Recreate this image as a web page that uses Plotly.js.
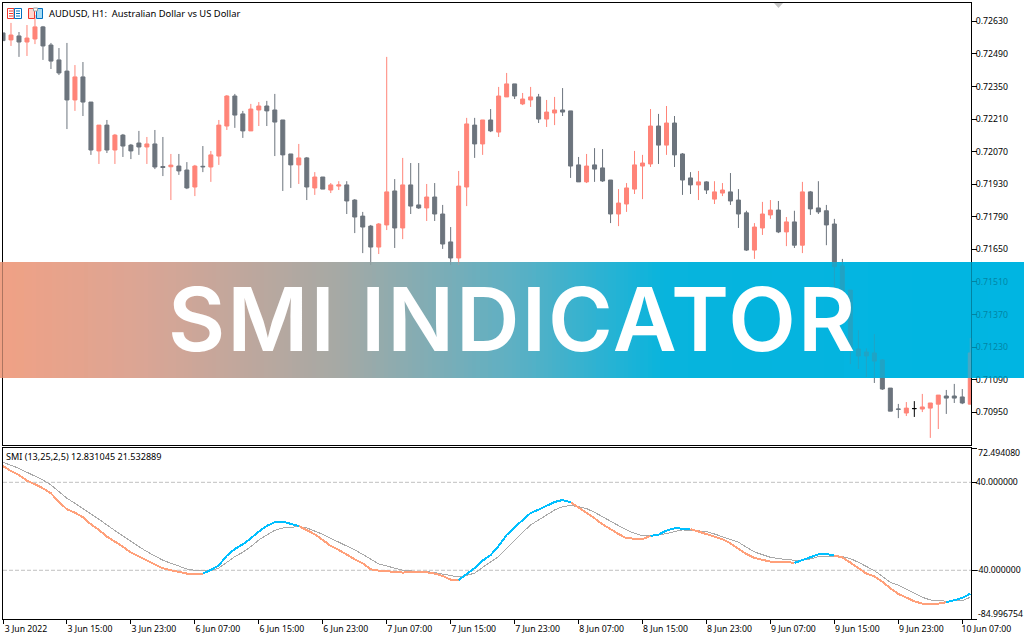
<!DOCTYPE html>
<html>
<head>
<meta charset="utf-8">
<script src="https://cdn.plot.ly/plotly-3.0.1.min.js"></script>
<style>
html,body{margin:0;padding:0;background:#fff;overflow:hidden}
#chart{width:1024px;height:640px}
.banner-title .annotation-text{letter-spacing:2px}
.scatterlayer .js-line{shape-rendering:crispEdges}
</style>
</head>
<body>
<div id="chart"></div>
<script>
// All prices in points of 0.00001
const opens=[72580,72550,72567,72541,72554,72606,72528,72464,72416,72292,72391,72283,72073,72184,72077,72141,72098,72107,72090,72103,72006,72005,72008,71991,71918,72007,72004,72051,72180,72309,72232,72159,72249,72266,72249,72206,72060,72013,72043,71914,71961,71905,71922,71927,71862,71793,71750,71660,71755,71901,71742,71927,71841,71828,71875,71802,71682,71613,71918,72184,72103,72206,72154,72305,72361,72275,72292,72305,72210,72236,72249,72245,72013,71940,72013,72000,71948,71802,71845,71909,72008,72017,72180,72098,72193,72060,71957,71927,71940,71866,71892,71897,71862,71807,71647,71742,71798,71819,71725,71768,71668,71897,71828,71816,71759,71579,71475,71222,71209,71205,71175,71054,70964,70947,70966,70964,70968,70985,71020,71020,71016,70985];
const highs=[72580,72623,72584,72614,72657,72610,72537,72515,72537,72442,72455,72283,72184,72206,72146,72146,72103,72159,72133,72163,72133,72060,72060,72025,72013,72094,72073,72206,72313,72318,72245,72275,72283,72288,72318,72206,72060,72103,72047,71982,71961,71935,71943,71943,71866,71811,71755,71763,72477,71952,72043,72021,72021,71931,71935,71841,71746,71987,72215,72215,72206,72253,72348,72408,72361,72322,72348,72318,72292,72305,72343,72245,72047,72060,72085,72081,71948,71909,71935,72073,72056,72253,72232,72266,72223,72064,71982,71987,71943,71943,71935,71978,71909,71816,71763,71854,71862,71858,71789,71816,71940,71901,71943,71841,71781,71609,71475,71303,71225,71286,71179,71054,70986,70994,70998,71029,70990,71024,71046,71072,71050,71269];
const lows=[72547,72524,72477,72481,72532,72464,72425,72399,72167,72245,72223,72056,72017,72064,72017,72047,72038,72056,72017,71995,71965,71862,71970,71909,71879,71982,71940,72013,72163,72172,72129,72159,72180,72180,72051,71901,71914,71931,71862,71884,71909,71892,71905,71802,71720,71634,71583,71630,71733,71656,71694,71802,71824,71772,71772,71652,71583,71583,71836,72043,72056,72154,72133,72305,72296,72270,72262,72193,72176,72184,72223,71957,71940,71935,71940,71940,71763,71750,71811,71888,71866,72004,72017,72056,72004,71884,71888,71862,71888,71845,71879,71841,71742,71643,71609,71712,71781,71720,71664,71656,71634,71798,71802,71668,71483,71461,71157,71136,71102,71076,71046,70955,70925,70934,70930,70951,70840,70878,70943,70990,70985,70985];
const closes=[72547,72571,72541,72558,72606,72524,72459,72408,72292,72391,72283,72077,72184,72077,72141,72094,72073,72090,72103,72004,72002,72012,71987,71914,72008,72005,72056,72184,72309,72227,72159,72253,72266,72245,72197,72056,72013,72043,71918,71961,71909,71927,71927,71858,71789,71746,71660,71759,71897,71742,71927,71836,71828,71875,71802,71673,71613,71922,72189,72103,72206,72159,72309,72361,72309,72296,72305,72210,72240,72249,72240,72008,71940,72008,71995,71944,71802,71849,71914,72013,72021,72180,72098,72193,72056,71948,71927,71940,71905,71897,71905,71858,71802,71647,71746,71802,71819,71725,71768,71668,71897,71824,71811,71755,71576,71470,71218,71192,71192,71170,71050,70955,70963,70968,70966,70973,70990,71024,71011,71011,70990,71205];

const smiMain=[54.8,50.3,46.7,41.5,38.2,34.5,30.0,22.1,15.5,12.4,8.2,1.8,-3.3,-9.4,-14.0,-18.5,-23.9,-27.6,-31.2,-34.8,-38.2,-40,-41.8,-43,-43,-43,-39.7,-35.5,-26.7,-20.6,-16.4,-10.9,-4.8,0.3,3.9,4.2,2.4,0.3,-3.3,-7.3,-12.4,-17.9,-21.5,-26.1,-30,-33.6,-39.1,-40.3,-40.9,-42.1,-42.1,-41.5,-41.5,-41.8,-43,-45.2,-48.5,-48.8,-43.6,-37.9,-31.2,-26.1,-17.9,-7.9,-0.9,5.8,12.1,15.2,18.5,22.1,23.9,21.8,17,12.4,7.3,1.8,-2.7,-7,-10.9,-11.5,-11.5,-8.8,-7.6,-3.9,-1.8,-2.1,-2.4,-4.8,-6.7,-9.4,-11.8,-15.5,-20,-25.2,-28.8,-30.6,-32.1,-32.4,-32.4,-33.3,-30.9,-27.9,-25.5,-25.2,-26.7,-28.2,-33,-37.9,-43,-45.5,-50.3,-56.4,-61.5,-64.8,-68.2,-70.3,-70.6,-70.3,-69.1,-67.3,-65.2,-61.2];
const smiSignal=[58.2,55.5,52.7,49.1,45.8,42.1,37.6,31.5,25.5,20.9,16.4,11.2,6.4,0.9,-3.9,-8.8,-13.9,-18.5,-23,-27,-30.9,-33.6,-36.1,-38.8,-40,-40.6,-40.6,-37.9,-33,-27.6,-23.6,-18.5,-12.4,-7.6,-3.6,-1.5,-0.6,-0.3,-1.5,-4.2,-7.3,-10.9,-14.2,-17.9,-21.5,-25.5,-29.7,-34.2,-36.1,-38.2,-40,-40.6,-40.6,-41.2,-42.1,-43.3,-44.8,-46.1,-44.5,-42.7,-37.3,-32.7,-27.6,-20,-12.4,-5.5,1.2,5.8,10.3,14.8,17.9,18.8,17.9,16.1,12.7,8.5,4.2,0.6,-3.3,-6.4,-8.5,-8.8,-7.9,-6.7,-4.8,-3.3,-3.6,-3.9,-4.8,-7,-9.4,-11.8,-14.5,-19.1,-23.3,-25.8,-28.2,-29.4,-30.3,-30.9,-30.6,-29.7,-27.6,-27,-27,-27.6,-29.4,-32.7,-36.4,-40.3,-45.5,-50.9,-53.6,-57.6,-60.9,-64.5,-67,-67.3,-68.2,-67.6,-67.6,-64.5];
// bar-index spans in which the SMI line is drawn in its rising colour
const risingSpans=[[25,37],[57,71],[81,86],[99,104],[118,121]];

const priceTicks=[0.7263,0.7249,0.7235,0.7221,0.7207,0.7193,0.7179,0.7165,0.7151,0.7137,0.7123,0.7109,0.7095];
const smiRange=[-84.3,71.2];
const smiTicks=[71.2,40,-40,-84.3];
const smiTickText=['','40.000000','-40.000000',''];
const smiLevels=[40,-40];
const timeTickBars=[0,8,16,24,32,40,48,56,64,72,80,88,96,104,112,120];
const timeTickText=['3 Jun 2022','3 Jun 15:00','3 Jun 23:00','6 Jun 07:00','6 Jun 15:00','6 Jun 23:00','7 Jun 07:00','7 Jun 15:00','7 Jun 23:00','8 Jun 07:00','8 Jun 15:00','8 Jun 23:00','9 Jun 07:00','9 Jun 15:00','9 Jun 23:00','\u00a010 Jun 07:00'];

const POINT=1e-5, W=1024, H=640;
const bars=opens.map((_,i)=>i);
const fx=p=>p/W, fy=p=>1-p/H;
const UP='#ff8478', DOWN='#6c747d', FONT='"Noto Sans",Arial,sans-serif';

function candles(test,upColor,downColor){
  const idx=bars.filter(test), pick=a=>idx.map(i=>+(a[i]*POINT).toFixed(5));
  return {type:'candlestick',x:idx,open:pick(opens),high:pick(highs),low:pick(lows),close:pick(closes),
    xaxis:'x',yaxis:'y',whiskerwidth:0,hoverinfo:'skip',
    increasing:{line:{color:upColor,width:1},fillcolor:upColor},
    decreasing:{line:{color:downColor,width:1},fillcolor:downColor}};
}
const inRising=i=>risingSpans.some(s=>i>=s[0]&&i<=s[1]);
const isFalling=i=>!inRising(i)||risingSpans.some(s=>i===s[0]||i===s[1]);

const traces=[
  candles(i=>closes[i]>opens[i],UP,UP),
  candles(i=>closes[i]<opens[i],DOWN,DOWN),
  candles(i=>closes[i]===opens[i],'#000','#000'),
  {type:'scatter',mode:'lines',x:bars,y:smiSignal,xaxis:'x2',yaxis:'y2',line:{color:'#a9a9a9',width:1},hoverinfo:'skip'},
  {type:'scatter',mode:'lines',x:bars,y:smiMain.map((v,i)=>isFalling(i)?v:null),xaxis:'x2',yaxis:'y2',line:{color:'#ffa07a',width:2},hoverinfo:'skip'},
  {type:'scatter',mode:'lines',x:bars,y:smiMain.map((v,i)=>inRising(i)?v:null),xaxis:'x2',yaxis:'y2',line:{color:'#00bfff',width:2},hoverinfo:'skip'}
];

// banner gradient stops
const stops=[[0,[240,161,133]],[140,[219,165,148]],[340,[165,169,165]],[512,[94,176,195]],[665,[8,180,221]],[1024,[0,181,226]]];
function bannerColor(x){
  for(let s=1;s<stops.length;s++){
    if(x<=stops[s][0]){
      const a=stops[s-1],b=stops[s],t=(x-a[0])/(b[0]-a[0]);
      return a[1].map((c,j)=>Math.round(c+(b[1][j]-c)*t));
    }
  }
  return stops[stops.length-1][1];
}
const shapes=[];
for(let x=0;x<W;x+=4){
  const c=bannerColor(x+2), col='rgb('+c.join(',')+')';
  const base={type:'rect',xref:'paper',yref:'paper',x0:fx(x),x1:fx(x+4),y0:fy(378),y1:fy(262),line:{width:0},fillcolor:col};
  shapes.push(Object.assign({},base,{layer:'below'}));
  shapes.push(Object.assign({},base,{layer:'above',opacity:0.72}));
}
smiLevels.forEach(v=>shapes.push({type:'line',xref:'x2 domain',yref:'y2',x0:0,x1:1,y0:v,y1:v,layer:'below',line:{color:'#c0c0c0',width:1,dash:'4px,2px'}}));
// period marker at the top edge
shapes.push({type:'path',xref:'paper',yref:'paper',path:`M${fx(774)},${fy(3)}L${fx(783)},${fy(3)}L${fx(778.5)},${fy(8)}Z`,fillcolor:'#c4c4c4',line:{width:0},layer:'above'});
// toolbar icons
function iconRect(x0,y0,x1,y1,stroke,fill){
  shapes.push({type:'rect',xref:'paper',yref:'paper',x0:fx(x0),x1:fx(x1),y0:fy(y1),y1:fy(y0),line:{color:stroke,width:1},fillcolor:fill,layer:'above'});
}
function iconLine(x0,x1,y,c){
  shapes.push({type:'line',xref:'paper',yref:'paper',x0:fx(x0),x1:fx(x1),y0:fy(y),y1:fy(y),line:{color:c,width:1},layer:'above'});
}
iconRect(7.5,8.5,14,18.5,'#f0372c','#fff');
iconRect(14.5,8.5,21.5,18.5,'#0070c0','#fff');
[11,13.5,16].forEach(y=>{iconLine(9,13,y,'#f0372c');iconLine(16,20,y,'#0070c0');});
iconRect(28.5,8.5,34.5,18.5,'#f0372c','#ffd8d0');
iconRect(36.5,8.5,42.5,18.5,'#0070c0','#a8dcf5');
iconRect(33.5,8,37.5,11,'#a0a0a0','#fff');

const axisBase={showgrid:false,zeroline:false,showline:true,mirror:true,linecolor:'#000',linewidth:1,
  tickfont:{family:FONT,size:8.7,color:'#000'},fixedrange:true};
const xRange=[0,121.09];
const layout={
  width:W,height:H,margin:{l:0,r:0,t:0,b:0},paper_bgcolor:'#fff',plot_bgcolor:'rgba(0,0,0,0)',showlegend:false,
  boxgap:0.5,boxgroupgap:0,boxmode:'overlay',
  xaxis:Object.assign({},axisBase,{domain:[fx(3),fx(971)],anchor:'y',range:xRange,ticks:'',showticklabels:false,rangeslider:{visible:false}}),
  yaxis:Object.assign({},axisBase,{domain:[fy(445),fy(3)],anchor:'x',side:'right',range:[0.708095,0.727086],
    tickmode:'array',tickvals:priceTicks,tickformat:'.5f',ticks:'outside',ticklen:5,tickcolor:'#000',tickwidth:1,ticklabelstandoff:-3}),
  xaxis2:Object.assign({},axisBase,{domain:[fx(3),fx(971)],anchor:'y2',range:xRange,rangeslider:{visible:false},
    tickmode:'array',tickvals:timeTickBars,ticktext:timeTickText,ticks:'outside',ticklen:4,tickcolor:'#000',tickwidth:1,ticklabelshift:23,ticklabelstandoff:-2,tickangle:0}),
  yaxis2:Object.assign({},axisBase,{domain:[fy(619),fy(448)],anchor:'x2',side:'right',range:smiRange,
    tickmode:'array',tickvals:smiTicks,ticktext:smiTickText,ticks:'outside',ticklen:5,tickcolor:'#000',tickwidth:1,ticklabelstandoff:-3}),
  shapes:shapes,
  annotations:[
    {xref:'paper',yref:'paper',x:fx(47.5),y:fy(13.5),xanchor:'left',yanchor:'middle',showarrow:false,borderpad:0,
     text:'AUDUSD, H1:\u00a0\u00a0Australian Dollar vs US Dollar',font:{family:FONT,size:9.4,color:'#000'}},
    {xref:'paper',yref:'paper',x:fx(5),y:fy(456.5),xanchor:'left',yanchor:'middle',showarrow:false,borderpad:0,
     text:'SMI (13,25,2,5) 12.831045 21.532889',font:{family:FONT,size:9.1,color:'#000'}},
    {xref:'paper',yref:'paper',x:fx(976.5),y:fy(452.5),xanchor:'left',yanchor:'middle',showarrow:false,borderpad:0,
     text:'72.494080',font:{family:FONT,size:8.7,color:'#000'}},
    {xref:'paper',yref:'paper',x:fx(976.5),y:fy(613.5),xanchor:'left',yanchor:'middle',showarrow:false,borderpad:0,
     text:'-84.996754',font:{family:FONT,size:8.7,color:'#000'}},
    {xref:'paper',yref:'paper',x:fx(512),y:fy(319),xanchor:'center',yanchor:'middle',showarrow:false,borderpad:0,
     text:'SMI INDICATOR',captureevents:false,font:{family:'Inter,"Noto Sans",sans-serif',size:88,weight:600,color:'#fff'}}
  ]
};
Plotly.newPlot('chart',traces,layout,{displayModeBar:false,staticPlot:true}).then(()=>{
  document.querySelectorAll('.annotation').forEach(a=>{
    if(a.textContent==='SMI INDICATOR') a.classList.add('banner-title');
  });
});
</script>
</body>
</html>
